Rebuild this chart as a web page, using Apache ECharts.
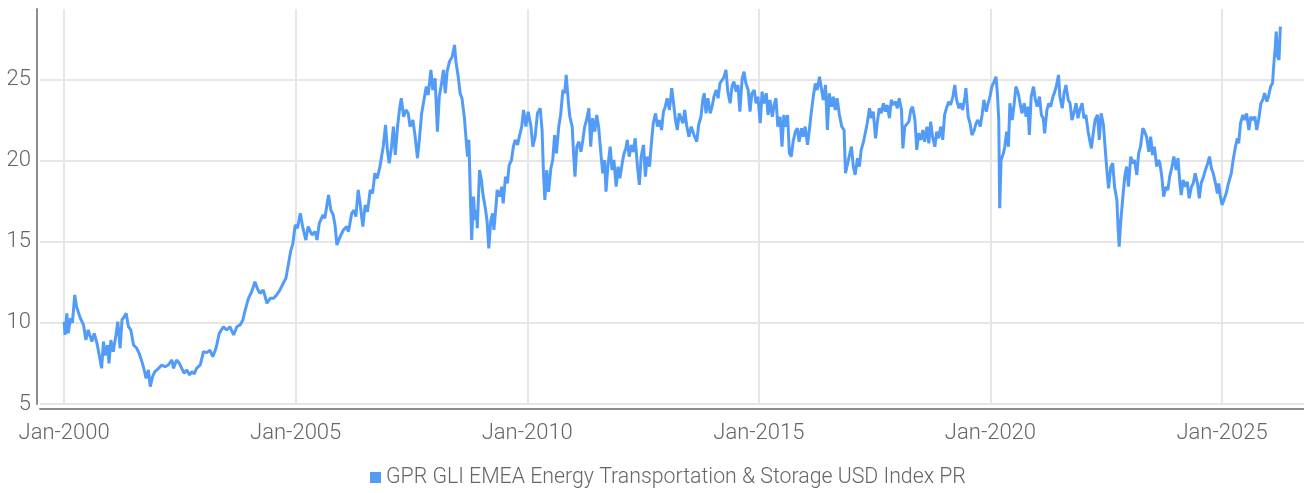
<!DOCTYPE html>
<html><head><meta charset="utf-8">
<script src="https://cdn.jsdelivr.net/npm/echarts@6/dist/echarts.min.js"></script>
<style>html,body{margin:0;padding:0;background:#fff}#c{width:1304px;height:493px}</style>
</head><body><div id="c"></div>
<script>
const seriesName = 'GPR GLI EMEA Energy Transportation & Storage USD Index PR';
const xTickYears = [2000, 2005, 2010, 2015, 2020, 2025];
const yTicks = [5, 10, 15, 20, 25];

// [decimal year, index value]
const p2000_2003 = [[2000.00,10.08],[2000.02,9.26],[2000.06,10.6],[2000.09,9.36],[2000.14,10.3],[2000.18,10.0],[2000.23,11.73],[2000.27,11.0],[2000.35,10.3],[2000.42,9.88],[2000.47,8.95],[2000.52,9.57],[2000.60,8.85],[2000.65,9.36],[2000.71,8.75],[2000.76,8.0],[2000.81,7.2],[2000.85,8.85],[2000.89,8.0],[2000.94,8.64],[2000.97,7.51],[2001.01,8.95],[2001.06,8.23],[2001.12,9.26],[2001.16,10.08],[2001.21,8.44],[2001.25,10.19],[2001.30,10.39],[2001.34,10.6],[2001.39,9.77],[2001.44,9.57],[2001.50,8.64],[2001.57,8.44],[2001.62,8.13],[2001.68,7.61],[2001.73,7.1],[2001.77,6.58],[2001.82,7.1],[2001.86,6.07],[2001.91,6.69],[2001.96,7.0],[2002.04,7.2],[2002.11,7.41],[2002.18,7.3],[2002.25,7.41],[2002.33,7.72],[2002.36,7.2],[2002.43,7.72],[2002.49,7.5],[2002.54,7.2],[2002.59,6.9],[2002.65,7.1],[2002.71,6.79],[2002.76,7.0],[2002.81,6.85],[2002.86,7.2],[2002.94,7.41],[2003.01,8.23],[2003.08,8.17],[2003.15,8.33]];
const p2003_2006 = [[2003.21,7.92],[2003.28,8.44],[2003.35,9.36],[2003.44,9.77],[2003.51,9.57],[2003.58,9.77],[2003.66,9.26],[2003.73,9.77],[2003.80,9.88],[2003.86,10.19],[2003.91,10.8],[2003.98,11.52],[2004.05,11.93],[2004.12,12.55],[2004.17,12.14],[2004.23,11.83],[2004.30,12.04],[2004.38,11.22],[2004.45,11.52],[2004.52,11.52],[2004.59,11.73],[2004.66,12.04],[2004.73,12.45],[2004.79,12.76],[2004.84,13.58],[2004.89,14.4],[2004.94,14.92],[2004.99,16.05],[2005.04,15.85],[2005.10,16.77],[2005.15,15.95],[2005.22,15.12],[2005.27,15.95],[2005.35,15.43],[2005.42,15.64],[2005.46,15.12],[2005.51,16.15],[2005.59,16.67],[2005.63,16.46],[2005.71,17.9],[2005.76,16.97],[2005.81,16.67],[2005.85,16.05],[2005.89,14.81],[2005.96,15.33],[2006.03,15.74],[2006.10,15.95],[2006.14,15.64],[2006.21,16.77],[2006.26,16.97],[2006.30,16.56],[2006.35,18.21],[2006.39,17.39]];
const p2006_2009 = [[2006.45,15.95],[2006.50,17.28],[2006.55,16.87],[2006.61,18.21],[2006.66,18.0],[2006.71,19.24],[2006.76,18.93],[2006.82,19.65],[2006.86,20.37],[2006.89,20.88],[2006.94,22.22],[2006.98,20.68],[2007.02,19.86],[2007.07,20.88],[2007.11,22.12],[2007.15,20.37],[2007.20,22.12],[2007.24,23.15],[2007.28,23.87],[2007.33,22.73],[2007.38,23.15],[2007.43,22.94],[2007.47,22.12],[2007.53,22.53],[2007.58,21.5],[2007.63,20.17],[2007.67,21.3],[2007.72,22.94],[2007.77,23.77],[2007.82,24.59],[2007.86,24.07],[2007.92,25.62],[2007.96,24.38],[2008.01,25.1],[2008.06,21.81],[2008.10,23.97],[2008.15,24.79],[2008.19,25.62],[2008.23,24.18],[2008.27,25.51],[2008.32,26.13],[2008.38,26.44],[2008.43,27.16],[2008.46,26.13],[2008.51,25.2],[2008.55,24.18],[2008.59,23.87],[2008.64,22.73],[2008.68,22.84],[2008.71,20.27],[2008.74,21.3],[2008.77,18.0],[2008.80,15.12],[2008.84,17.8],[2008.87,16.36],[2008.91,16.97],[2008.92,15.85],[2008.97,19.44],[2009.01,18.83],[2009.05,17.8],[2009.09,17.18],[2009.13,16.36],[2009.17,14.61],[2009.21,16.26],[2009.25,16.77],[2009.28,15.74],[2009.33,17.39],[2009.35,18.21],[2009.40,17.8],[2009.45,18.41],[2009.48,17.39],[2009.53,19.03],[2009.57,18.62],[2009.61,19.75],[2009.66,20.06],[2009.70,20.88],[2009.74,21.3],[2009.79,20.99],[2009.83,21.5]];
const p2010_2013 = [[2009.88,22.12],[2009.92,23.15],[2009.97,22.12],[2010.02,23.04],[2010.08,22.12],[2010.12,20.88],[2010.17,21.5],[2010.22,22.94],[2010.28,23.25],[2010.32,21.91],[2010.35,19.24],[2010.38,17.59],[2010.42,19.44],[2010.46,18.1],[2010.51,19.55],[2010.55,20.06],[2010.59,21.6],[2010.63,20.47],[2010.68,22.12],[2010.72,22.84],[2010.77,24.38],[2010.81,24.18],[2010.84,25.31],[2010.89,23.56],[2010.92,22.73],[2010.97,22.12],[2011.00,20.47],[2011.03,19.03],[2011.07,20.88],[2011.11,21.19],[2011.16,20.57],[2011.20,21.3],[2011.24,22.12],[2011.28,22.53],[2011.33,23.25],[2011.37,20.88],[2011.41,22.64],[2011.46,21.81],[2011.50,22.84],[2011.54,22.12],[2011.59,20.47],[2011.63,19.24],[2011.67,20.06],[2011.70,18.1],[2011.74,19.65],[2011.79,20.88],[2011.83,19.44],[2011.87,20.06],[2011.92,18.41],[2011.96,19.65],[2012.00,18.93],[2012.05,19.86],[2012.09,20.47],[2012.13,20.78],[2012.16,21.3],[2012.20,20.27],[2012.25,20.99],[2012.29,20.57],[2012.33,21.4],[2012.38,19.65],[2012.42,18.52],[2012.46,20.27],[2012.51,20.99],[2012.55,19.03],[2012.59,20.27],[2012.64,19.65],[2012.68,21.09],[2012.72,22.33],[2012.77,22.94],[2012.81,22.12],[2012.85,22.53],[2012.90,21.91],[2012.94,23.04],[2012.98,23.35],[2013.02,23.87],[2013.07,23.15],[2013.12,24.49],[2013.15,23.77],[2013.20,22.53],[2013.24,21.91],[2013.28,22.94]];
const p2013_2016 = [[2013.36,22.33],[2013.40,23.15],[2013.44,22.22],[2013.49,21.5],[2013.54,22.12],[2013.60,21.6],[2013.66,21.19],[2013.70,22.22],[2013.75,22.73],[2013.79,23.77],[2013.82,24.18],[2013.86,22.94],[2013.90,23.87],[2013.95,22.94],[2013.99,23.35],[2014.03,23.97],[2014.08,24.38],[2014.12,23.87],[2014.16,24.79],[2014.21,25.0],[2014.25,25.2],[2014.29,25.62],[2014.33,24.28],[2014.38,23.56],[2014.42,24.59],[2014.46,24.9],[2014.51,24.28],[2014.55,24.69],[2014.59,23.04],[2014.64,25.1],[2014.68,25.51],[2014.72,24.79],[2014.77,24.38],[2014.81,23.04],[2014.85,24.18],[2014.90,24.38],[2014.94,23.56],[2014.98,23.97],[2015.03,22.33],[2015.07,24.28],[2015.11,23.56],[2015.16,24.18],[2015.20,22.84],[2015.24,23.77],[2015.29,22.73],[2015.33,23.46],[2015.37,23.87],[2015.41,22.12],[2015.46,22.73],[2015.50,20.88],[2015.54,22.84],[2015.59,22.12],[2015.62,22.84],[2015.66,20.47],[2015.70,20.27],[2015.74,21.19],[2015.79,21.81],[2015.83,22.02],[2015.87,21.19],[2015.92,22.02],[2015.96,21.5],[2016.00,22.12],[2016.05,20.99],[2016.09,21.91],[2016.13,22.94],[2016.18,24.07],[2016.22,24.79],[2016.26,24.38],[2016.31,25.2],[2016.35,24.49],[2016.39,23.77],[2016.44,24.69],[2016.48,21.91],[2016.52,24.18],[2016.57,23.35],[2016.61,23.97],[2016.65,23.15],[2016.69,23.87],[2016.74,22.84]];
const p2016_2020 = [[2016.79,22.12],[2016.84,21.91],[2016.87,19.24],[2016.91,19.14],[2016.95,20.27],[2017.00,20.88],[2017.04,19.65],[2017.08,19.14],[2017.13,20.17],[2017.17,19.65],[2017.21,20.68],[2017.26,21.19],[2017.30,21.3],[2017.34,22.33],[2017.39,23.25],[2017.43,22.64],[2017.47,23.04],[2017.52,21.4],[2017.56,22.43],[2017.60,23.25],[2017.64,22.94],[2017.69,23.56],[2017.73,23.04],[2017.77,23.46],[2017.82,22.64],[2017.86,23.77],[2017.90,23.46],[2017.95,23.66],[2017.99,23.25],[2018.03,23.87],[2018.08,23.15],[2018.11,20.78],[2018.15,22.12],[2018.19,22.12],[2018.24,22.43],[2018.28,23.15],[2018.32,23.35],[2018.37,22.53],[2018.41,20.68],[2018.45,21.71],[2018.50,21.3],[2018.54,21.91],[2018.58,21.19],[2018.63,22.12],[2018.67,21.09],[2018.71,22.43],[2018.75,21.5],[2018.80,20.88],[2018.84,21.81],[2018.88,21.4],[2018.93,22.12],[2018.97,21.3],[2019.01,22.84],[2019.06,23.35],[2019.10,23.66],[2019.14,23.46],[2019.19,23.97],[2019.23,24.69],[2019.27,23.77],[2019.32,23.25],[2019.36,23.56],[2019.40,23.15],[2019.45,23.97],[2019.47,24.49],[2019.52,22.73],[2019.56,22.33],[2019.60,21.6],[2019.65,21.91],[2019.69,22.33],[2019.73,22.53],[2019.78,22.12],[2019.82,22.84],[2019.86,23.77],[2019.91,23.04],[2019.95,23.56],[2019.99,23.97],[2020.03,24.59],[2020.08,24.9],[2020.12,25.2],[2020.15,24.18],[2020.18,22.53],[2020.20,17.08]];
const p2020_2023 = [[2020.23,20.06],[2020.28,20.47],[2020.31,20.88],[2020.35,21.81],[2020.39,20.88],[2020.42,23.56],[2020.47,22.53],[2020.51,23.46],[2020.55,24.59],[2020.60,24.18],[2020.64,23.56],[2020.68,22.94],[2020.73,23.56],[2020.77,22.73],[2020.81,23.35],[2020.84,21.6],[2020.88,23.97],[2020.93,24.59],[2020.97,23.77],[2021.01,23.35],[2021.06,23.97],[2021.10,22.84],[2021.14,22.64],[2021.17,21.71],[2021.22,23.15],[2021.26,23.56],[2021.30,23.35],[2021.35,23.97],[2021.39,24.28],[2021.43,24.69],[2021.47,25.31],[2021.50,23.97],[2021.55,23.25],[2021.59,24.18],[2021.63,24.69],[2021.68,23.77],[2021.72,23.56],[2021.76,22.53],[2021.81,23.04],[2021.85,23.56],[2021.89,22.64],[2021.93,23.15],[2021.98,23.56],[2022.02,22.64],[2022.06,22.84],[2022.11,21.81],[2022.15,21.19],[2022.18,20.78],[2022.22,21.71],[2022.26,22.53],[2022.31,22.84],[2022.35,21.3],[2022.39,22.94],[2022.44,22.22],[2022.48,20.68],[2022.52,19.24],[2022.55,18.31],[2022.60,19.65],[2022.64,19.86],[2022.68,18.41],[2022.73,17.59],[2022.76,15.64],[2022.78,14.71],[2022.81,16.15],[2022.86,17.8],[2022.90,19.03],[2022.94,19.65],[2022.98,18.41],[2023.03,20.27],[2023.07,19.86],[2023.11,20.06],[2023.16,19.14],[2023.20,20.47],[2023.24,20.88],[2023.29,22.02],[2023.33,21.81],[2023.37,21.5],[2023.42,20.57],[2023.46,21.5],[2023.50,20.37],[2023.54,20.88],[2023.59,19.65],[2023.63,20.06]];
const p2023_2026 = [[2023.66,19.86],[2023.70,19.03],[2023.74,17.8],[2023.79,18.41],[2023.83,18.21],[2023.87,19.03],[2023.92,19.65],[2023.96,20.27],[2024.01,19.44],[2024.05,20.17],[2024.09,18.62],[2024.12,17.9],[2024.16,18.83],[2024.21,18.41],[2024.25,18.72],[2024.29,17.7],[2024.34,18.41],[2024.38,18.62],[2024.42,19.24],[2024.47,18.62],[2024.51,17.7],[2024.55,18.62],[2024.60,19.03],[2024.64,19.44],[2024.68,19.75],[2024.73,20.27],[2024.77,19.55],[2024.81,19.24],[2024.86,18.62],[2024.90,18.0],[2024.93,18.62],[2024.96,17.9],[2025.00,17.28],[2025.04,17.59],[2025.09,18.0],[2025.13,18.52],[2025.17,18.41],[2025.20,19.24],[2025.24,20.06],[2025.29,20.88],[2025.33,21.4],[2025.36,21.09],[2025.40,22.33],[2025.45,22.84],[2025.49,22.53],[2025.53,22.94],[2025.58,21.91],[2025.62,22.73],[2025.66,22.53],[2025.71,22.73],[2025.75,21.91],[2025.79,22.53],[2025.84,23.56],[2025.88,23.77],[2025.92,24.18],[2025.97,23.66],[2026.01,24.07],[2026.05,24.59],[2026.09,24.79],[2026.12,26.03],[2026.15,27.06],[2026.17,27.98],[2026.20,26.44],[2026.23,26.23],[2026.26,28.29]];

const points = [].concat(p2000_2003, p2003_2006, p2006_2009, p2010_2013, p2013_2016, p2016_2020, p2020_2023, p2023_2026);

const FONT = 'Roboto, "DejaVu Sans Condensed", sans-serif';
const TXT = '#666666';
const GRID = '#e6e6e6';
const AXIS = '#8c8c8c';
const LINE = '#529cf8';

const chart = echarts.init(document.getElementById('c'), null, {renderer: 'canvas'});
chart.setOption({
  animation: false,
  grid: {left: 40, right: 0, top: 9, bottom: 89, containLabel: false},
  xAxis: {
    type: 'value',
    min: 1999.48, max: 2026.77,
    offset: 5,
    axisLine: {show: true, lineStyle: {color: AXIS, width: 2}},
    axisTick: {show: false, customValues: xTickYears},
    axisLabel: {customValues: xTickYears, formatter: v => 'Jan-' + Math.round(v),
      color: TXT, fontFamily: FONT, fontWeight: 300, fontSize: 22, margin: 13},
    splitLine: {show: true, lineStyle: {color: GRID, width: 2}}
  },
  yAxis: {
    type: 'value', min: 5, max: 29.38, offset: 3,
    axisLine: {show: true, lineStyle: {color: AXIS, width: 2}},
    axisTick: {show: false, customValues: yTicks},
    axisLabel: {customValues: yTicks, color: TXT, fontFamily: FONT, fontWeight: 300, fontSize: 22, margin: 6},
    splitLine: {show: true, lineStyle: {color: GRID, width: 2}}
  },
  legend: {
    show: true, left: 370, top: 467, padding: 0, icon: 'rect', itemWidth: 11, itemHeight: 11, itemGap: 10,
    textStyle: {color: TXT, fontFamily: FONT, fontWeight: 300, fontSize: 21.3},
    data: [seriesName]
  },
  series: [{
    type: 'line', name: seriesName, data: points, showSymbol: false, symbol: 'none',
    lineStyle: {color: LINE, width: 3}, itemStyle: {color: LINE}
  }]
});
</script>
</body></html>
